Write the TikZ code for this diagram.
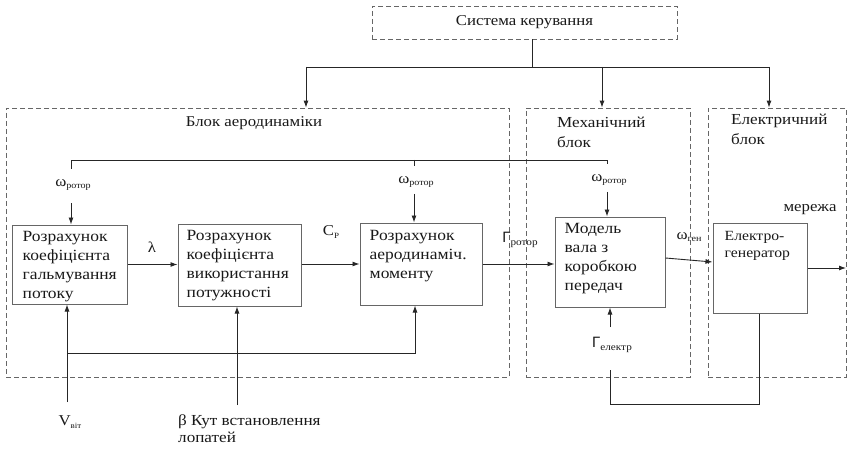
\documentclass[tikz,border=0pt]{standalone}
\usepackage{fontspec}
\setmainfont{Liberation Serif}[FakeStretch=1.12]
\newfontfamily\gsans{Liberation Sans}
\usetikzlibrary{arrows.meta}

% lowered small index text
\newcommand\idx[2][9]{\raisebox{-0.35ex}{\fontsize{#1}{#1}\selectfont #2}}

\tikzset{
  frame/.style={draw=black!60, dash pattern=on 5pt off 3pt, line width=0.8pt},
  blk/.style={draw=black!60, line width=1pt, inner sep=0pt},
  wire/.style={draw=black!85, line width=0.9pt},
  arr/.style={wire, -{Latex[length=7pt,width=5pt]}},
  lbl/.style={font=\fontsize{15}{19}\selectfont, inner sep=0pt, text=black!90},
  btxt/.style={lbl, align=left, anchor=north west, font=\fontsize{15.6}{19}\selectfont},
}

\begin{document}
\begin{tikzpicture}[x=1pt,y=-1pt]
\useasboundingbox[fill=white] (0,0) rectangle (848,449);

% control system and the three subsystem frames
\node[frame, lbl, minimum width=305pt, minimum height=33pt] (ctrl) at (524.5,22.5) {Система керування};
\node[frame, minimum width=503pt, minimum height=269pt] (aero) at (257.5,242.5) {};
\node[frame, minimum width=164pt, minimum height=269pt] (mech) at (608,242.5) {};
\node[frame, minimum width=138pt, minimum height=269pt] (elec) at (777,242.5) {};

\node[lbl] (aerot) at (254,123) {Блок аеродинаміки};
\node[btxt, font=\fontsize{15.3}{20}\selectfont] (mecht) at (557,117) {Механічний\\блок};
\node[btxt, font=\fontsize{15.3}{20}\selectfont] (elect) at (731,114) {Електричний\\блок};

% computation blocks
\node[blk, minimum width=115pt, minimum height=79pt] (b1) at (69.5,264.5) {};
\node[blk, minimum width=123pt, minimum height=82pt] (b2) at (239.5,265) {};
\node[blk, minimum width=122pt, minimum height=82pt] (b3) at (421,264) {};
\node[blk, minimum width=110pt, minimum height=90pt] (b4) at (610,262) {};
\node[blk, minimum width=94pt, minimum height=90pt] (b5) at (760,268) {};

\node[btxt] (t1) at ([shift={(11,7)}]b1.north west) {Розрахунок\\коефіцієнта\\гальмування\\потоку};
\node[btxt] (t2) at ([shift={(9,7)}]b2.north west) {Розрахунок\\коефіцієнта\\використання\\потужності};
\node[btxt] (t3) at ([shift={(10,8)}]b3.north west) {Розрахунок\\аеродинаміч.\\моменту};
\node[btxt] (t4) at ([shift={(10,7)}]b4.north west) {Модель\\вала з\\коробкою\\передач};
\node[btxt, font=\fontsize{14}{17}\selectfont] (t5) at ([shift={(12,9)}]b5.north west) {Електро-\\генератор};

% signal labels
\node[lbl] (lam) at (152,247) {λ};
\node[lbl] (cp) at (331,232) {C\idx[8]{P}};
\node[lbl] (grot) at (520,240) {{\gsans\fontsize{15}{15}\selectfont Γ}\idx[10]{ротор}};
\node[lbl] (om1) at (73,185) {ω\idx[9]{ротор}};
\node[lbl] (om3) at (416,182) {ω\idx[9]{ротор}};
\node[lbl] (om4) at (609,180) {ω\idx[9]{ротор}};
\node[lbl] (ogen) at (689,237) {ω\idx[9]{ген}};
\node[lbl] (grid) at (810,210) {мережа};
\node[lbl] (vwind) at (70,422) {V\idx[8]{віт}};
\node[lbl, align=left, anchor=north west, font=\fontsize{15.3}{17}\selectfont] (beta) at (178,415) {β Кут встановлення\\лопатей};
\node[lbl] (gel) at (612,345) {{\gsans\fontsize{15}{15}\selectfont Γ}\idx[10]{електр}};

% control distribution bus
\coordinate (cb) at (532,67);
\coordinate (ca) at (306,67);
\coordinate (cm) at (602,67);
\coordinate (ce) at (769,67);
\draw[wire] (ctrl.south -| cb) -- (cb);
\draw[wire] (ca) -- (ce);
\draw[arr] (ca) -- (ca |- aero.north);
\draw[arr] (cm) -- (cm |- mech.north);
\draw[arr] (ce) -- (ce |- elec.north);

% rotor speed feedback line
\coordinate (w1) at (71,160);
\coordinate (w3) at (414,160);
\coordinate (w4) at (607,160);
\draw[wire] (71,169) -- (w1) -- (w4) -- (607,164);
\draw[wire] (w3) -- (414,166);
\draw[arr] (71,203) -- (b1.north -| w1);
\draw[arr] (414,194) -- (b3.north -| w3);
\draw[arr] (607,192) -- (b4.north -| w4);

% forward signal path
\draw[arr] (b1.east) -- (b1.east -| b2.west);
\draw[arr] (b2.east |- b3.west) -- (b3.west);
\draw[arr] (b3.east) -- (b3.east -| b4.west);
\draw[arr] ([yshift=4pt]b4.east) -- ([yshift=6pt]b5.west);
\coordinate (gout) at (846,268);
\draw[arr] (b5.east) -- (gout);

% wind speed and pitch angle inputs
\coordinate (vin) at (67,402);
\coordinate (vbr) at (67,353);
\coordinate (v3) at (415,353);
\draw[arr] (vin) -- (b1.south -| vin);
\draw[arr] (vbr) -- (v3) -- (b3.south -| v3);
\coordinate (bin) at (237,405);
\draw[arr] (bin) -- (b2.south -| bin);

% electromagnetic torque feedback
\coordinate (gin) at (610,327);
\draw[arr] (gin) -- (b4.south -| gin);
\coordinate (fb1) at (759,404);
\coordinate (fb2) at (610,404);
\draw[wire] (b5.south -| fb1) -- (fb1) -- (fb2) -- (610,370);
\end{tikzpicture}
\end{document}
